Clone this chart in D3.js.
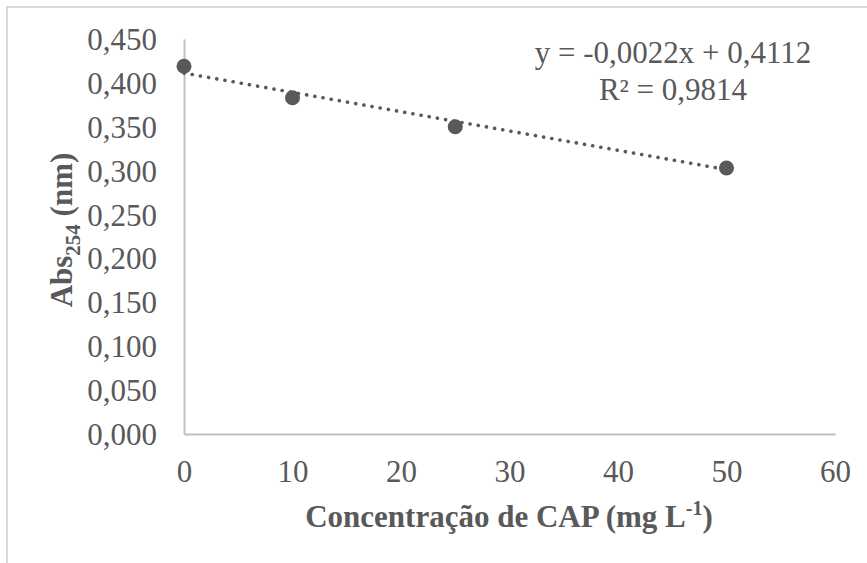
<!DOCTYPE html>
<head>
  <script src="https://cdn.jsdelivr.net/npm/d3@7"></script>
  <title>Abs254 x CAP</title>
  <style>
    html, body { margin: 0; background: #fff; }
    svg text { font-family: "Liberation Serif", "Times New Roman", serif; fill: #595959; }
  </style>
</head>
<div id="chart"></div>
<script>
  // dados
  const conc = [0, 10, 25, 50];
  const abs254 = [0.419, 0.383, 0.350, 0.303];
  const xTicks = [0, 10, 20, 30, 40, 50, 60];
  const yTicks = [0, 0.05, 0.1, 0.15, 0.2, 0.25, 0.3, 0.35, 0.4, 0.45];
  const slope = -0.0022, intercept = 0.4112;
  const eqLines = ["y = -0,0022x + 0,4112", "R² = 0,9814"];

  const width = 867, height = 563;
  const svg = d3.select("#chart").append("svg")
      .attr("width", width).attr("height", height);

  // moldura (so esquerda e topo aparecem)
  svg.append("path")
      .attr("d", "M7,563V7H867")
      .attr("fill", "none")
      .attr("stroke", "#d9d9d9")
      .attr("stroke-width", 2);

  const x = d3.scaleLinear().domain([0, 60]).range([184, 835]);
  const y = d3.scaleLinear().domain([0, 0.45]).range([434, 39]);
  const fmt = d => d3.format(".3f")(d).replace(".", ",");

  const xAxis = svg.append("g")
      .attr("transform", `translate(0,${y(0)})`)
      .call(d3.axisBottom(x).tickValues(xTicks).tickSize(0).tickPadding(26));
  const yAxis = svg.append("g")
      .attr("transform", `translate(${x(0)},0)`)
      .call(d3.axisLeft(y).tickValues(yTicks).tickFormat(fmt).tickSize(0).tickPadding(27));
  [xAxis, yAxis].forEach(g => {
    g.select(".domain").attr("stroke", "#bfbfbf").attr("stroke-width", 2);
    g.selectAll("text").attr("font-size", 31).attr("font-family", null).attr("fill", "#595959");
  });
  yAxis.selectAll("text").attr("dy", "0.34em");

  // linha de tendencia
  svg.append("line")
      .attr("x1", x(0)).attr("y1", y(intercept))
      .attr("x2", x(50)).attr("y2", y(intercept + slope * 50))
      .attr("stroke", "#595959")
      .attr("stroke-width", 3.6)
      .attr("stroke-linecap", "round")
      .attr("stroke-dasharray", "0.1 8.2");

  svg.append("g").selectAll("circle")
      .data(conc)
      .join("circle")
      .attr("cx", d => x(d))
      .attr("cy", (d, i) => y(abs254[i]))
      .attr("r", 7.5)
      .attr("fill", "#595959");

  // equacao
  svg.append("g").selectAll("text")
      .data(eqLines)
      .join("text")
      .attr("x", 673)
      .attr("y", (d, i) => 63 + i * 37)
      .attr("text-anchor", "middle")
      .attr("font-size", 31)
      .text(d => d);

  // titulos
  const xt = svg.append("text")
      .attr("x", 509).attr("y", 527)
      .attr("text-anchor", "middle")
      .attr("font-size", 31)
      .attr("font-weight", "bold");
  xt.append("tspan").text("Concentração de CAP (mg L");
  xt.append("tspan").attr("font-size", 20).attr("dy", -12).text("-1");
  xt.append("tspan").attr("dy", 12).text(")");

  const yt = svg.append("text")
      .attr("transform", `translate(72,230) rotate(-90)`)
      .attr("text-anchor", "middle")
      .attr("font-size", 31)
      .attr("font-weight", "bold");
  yt.append("tspan").text("Abs");
  yt.append("tspan").attr("font-size", 21).attr("dy", 8).text("254");
  yt.append("tspan").attr("dy", -8).text(" (nm)");
</script>
